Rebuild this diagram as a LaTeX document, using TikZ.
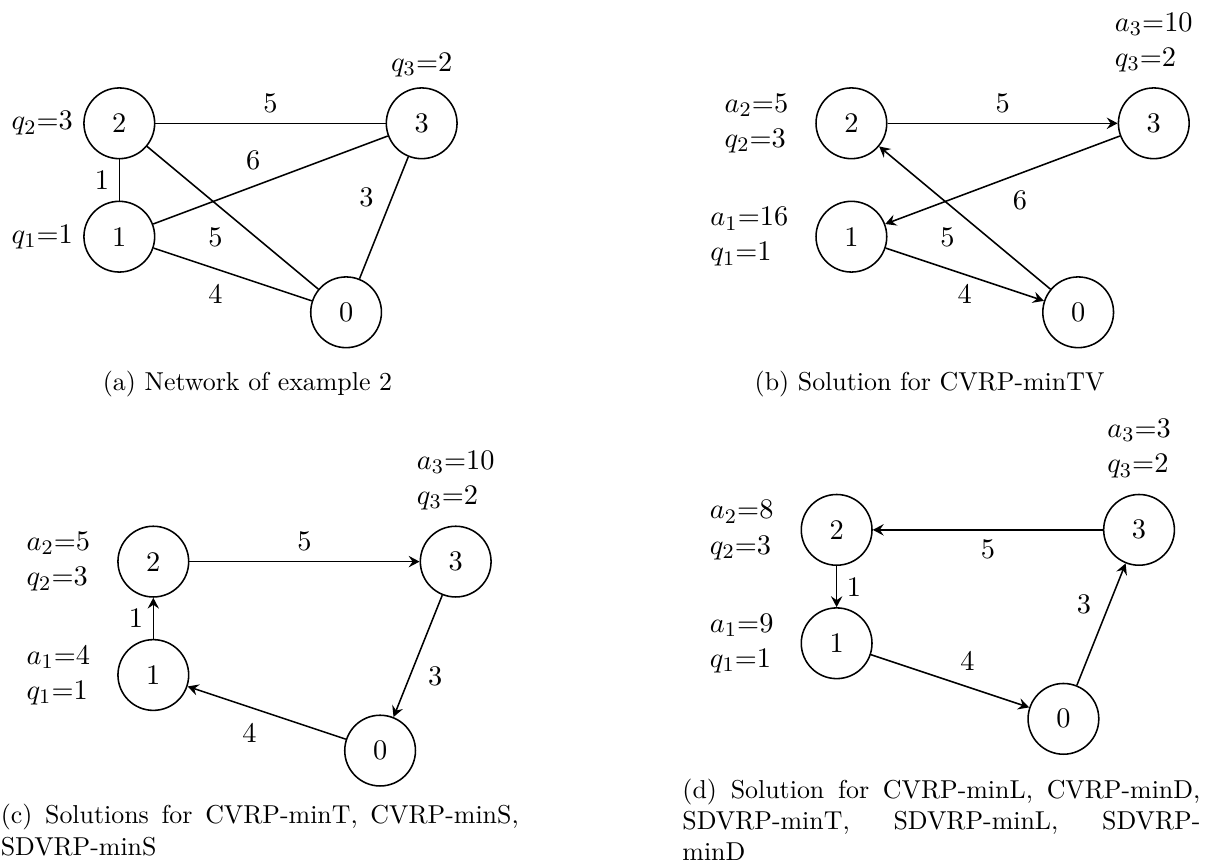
\documentclass[tikz,border=0pt,11pt]{standalone}
\usetikzlibrary{arrows.meta}
\tikzset{
  cliente/.style={circle,draw,minimum size=0.96cm,inner sep=0pt},
  rotta/.style={-{Stealth[length=4.2pt,width=4.4pt,inset=1.5pt]}},
  didascalia/.style={font=\small,inner sep=0pt}
}
\begin{document}
\begin{tikzpicture}[x=1.026cm,y=1.026cm,semithick]
        \useasboundingbox (0,0) rectangle (15.966,-11.442);
        %rete dell'esempio
        \begin{scope}[shift={(1.578,-3.131)}]
        \node[cliente,label={left:$q_1$=1}] (a1) at (0,0) {1};
        \node[cliente,label={left:$q_2$=3}] (a2) at (0,1.5) {2};
        \node[cliente,label={above:$q_3$=2}] (a3) at (4,1.5) {3};
        \node[cliente] (a0) at (3,-1) {0};
        \draw (a2) -- (a3) node[midway,above]{5};
        \draw (a1) -- (a3) node[midway,above left]{6};
        \draw (a2) -- (a1) node[midway,left]{1};
        \draw (a3) -- (a0) node[midway,above left]{3};
        \draw (a2) -- (a0) node[midway,below left]{5};
        \draw (a1) -- (a0) node[midway,below left]{4};
        \end{scope}
        %soluzione CVRP-minTV
        \begin{scope}[shift={(11.262,-3.131)}]
        \node[cliente,label={[align=left,label distance=6.5pt]left:$a_1$=16\\$q_1$=1}] (b1) at (0,0) {1};
        \node[cliente,label={[align=left,label distance=6.5pt]left:$a_2$=5\\$q_2$=3}] (b2) at (0,1.5) {2};
        \node[cliente,label={[align=left,label distance=2pt]above:$a_3$=10\\$q_3$=2}] (b3) at (4,1.5) {3};
        \node[cliente] (b0) at (3,-1) {0};
        \draw[rotta] (b2) -- (b3) node[midway,above]{5};
        \draw[rotta] (b3) -- (b1) node[midway,below right]{6};
        \draw[rotta] (b1) -- (b0) node[midway,below]{4};
        \draw[rotta] (b0) -- (b2) node[midway,below left]{5};
        \end{scope}
        %soluzioni CVRP-minT, CVRP-minS, SDVRP-minS
        \begin{scope}[shift={(2.028,-8.929)}]
        \node[cliente,label={[align=left,label distance=6.5pt]left:$a_1$=4\\$q_1$=1}] (c1) at (0,0) {1};
        \node[cliente,label={[align=left,label distance=6.5pt]left:$a_2$=5\\$q_2$=3}] (c2) at (0,1.5) {2};
        \node[cliente,label={[align=left,label distance=2pt]above:$a_3$=10\\$q_3$=2}] (c3) at (4,1.5) {3};
        \node[cliente] (c0) at (3,-1) {0};
        \draw[rotta] (c1) -- (c2) node[midway,left]{1};
        \draw[rotta] (c2) -- (c3) node[midway,above]{5};
        \draw[rotta] (c3) -- (c0) node[midway,below right]{3};
        \draw[rotta] (c0) -- (c1) node[midway,below left]{4};
        \end{scope}
        %soluzione CVRP-minL e altre
        \begin{scope}[shift={(11.067,-8.509)}]
        \node[cliente,label={[align=left,label distance=6.5pt]left:$a_1$=9\\$q_1$=1}] (d1) at (0,0) {1};
        \node[cliente,label={[align=left,label distance=6.5pt]left:$a_2$=8\\$q_2$=3}] (d2) at (0,1.5) {2};
        \node[cliente,label={[align=left,label distance=2pt]above:$a_3$=3\\$q_3$=2}] (d3) at (4,1.5) {3};
        \node[cliente] (d0) at (3,-1) {0};
        \draw[rotta] (d3) -- (d2) node[midway,below]{5};
        \draw[rotta] (d2) -- (d1) node[midway,right]{1};
        \draw[rotta] (d1) -- (d0) node[midway,above right]{4};
        \draw[rotta] (d0) -- (d3) node[midway,above left]{3};
        \end{scope}
        %didascalie
        \node[didascalia] (capa) at (3.274,-5.079) {(a) Network of example 2};
        \node[didascalia] (capb) at (12.296,-5.079) {(b) Solution for CVRP-minTV};
        \node[didascalia,anchor=base west,text width=200pt,align=justify] (capc) at (0,-10.899)
            {(c) Solutions for CVRP-minT, CVRP-minS,\linebreak SDVRP-minS};
        \node[didascalia,anchor=base west,text width=200pt,align=justify] (capd) at (9.017,-10.556)
            {(d) Solution for CVRP-minL, CVRP-minD,\linebreak SDVRP-minT, SDVRP-minL, SDVRP-\linebreak minD};
\end{tikzpicture}
\end{document}
